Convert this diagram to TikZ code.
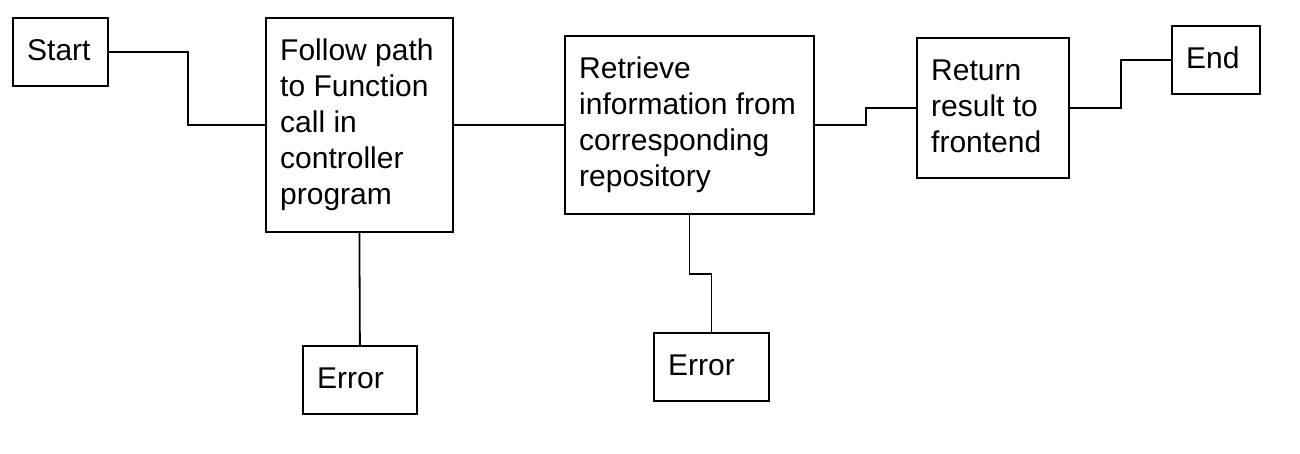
\documentclass[tikz,border=0pt]{standalone}
\usepackage{fontspec}
\setmainfont{Liberation Sans}
\usetikzlibrary{calc}
\tikzset{
  box/.style={draw=black, line width=1.8pt, fill=white, inner sep=0pt, anchor=north west},
  txt/.style={inner sep=0pt, align=left, anchor=north west, font=\fontsize{30}{36}\selectfont},
  link/.style={draw=black, line width=1.8pt}
}
\newcommand{\fl}{\rule{0pt}{23pt}}
\begin{document}
\begin{tikzpicture}[x=1pt,y=-1pt]
\useasboundingbox[fill=white] (0,0) rectangle (1300,454);
% boxes
\node[box, minimum width=95pt,  minimum height=68pt]  (start) at (12,17) {};
\node[box, minimum width=187pt, minimum height=214pt] (b2)    at (265,17) {};
\node[box, minimum width=249pt, minimum height=178pt] (b3)    at (564,35) {};
\node[box, minimum width=152pt, minimum height=140pt] (b4)    at (916,37) {};
\node[box, minimum width=88pt,  minimum height=68pt]  (end)   at (1171,25) {};
\node[box, minimum width=114pt, minimum height=68pt]  (err1)  at (302,345) {};
\node[box, minimum width=115pt, minimum height=68pt]  (err2)  at (653,332) {};
% texts
\node[txt] (startT) at ($(start.north west)+(15,20.5)$) {\fl Start};
\node[txt] (b2T) at ($(b2.north west)+(15,20.5)$) {\fl Follow path\\to Function\\call in\\controller\\program};
\node[txt] (b3T) at ($(b3.north west)+(15,20.5)$) {\fl Retrieve\\information from\\corresponding\\repository};
\node[txt] (b4T) at ($(b4.north west)+(15,20.5)$) {\fl Return\\result to\\frontend};
\node[txt] (endT) at ($(end.north west)+(15,20.5)$) {\fl End};
\node[txt] (err1T) at ($(err1.north west)+(15,20.5)$) {\fl Error};
\node[txt] (err2T) at ($(err2.north west)+(15,20.5)$) {\fl Error};
% connectors
\draw[link] (start.east) -- ++(79,0) |- (b2.west);
\draw[link] (b2.east) -- (b3.west);
\draw[link] (b3.east) -- ++(51,0) |- (b4.west);
\draw[link] (b4.east) -- ++(51,0) |- (end.west);
\draw[link] (b2.south) -- (err1.north);
\draw[link] (b3.south) -- ++(0,59) -| (err2.north);
\end{tikzpicture}
\end{document}
